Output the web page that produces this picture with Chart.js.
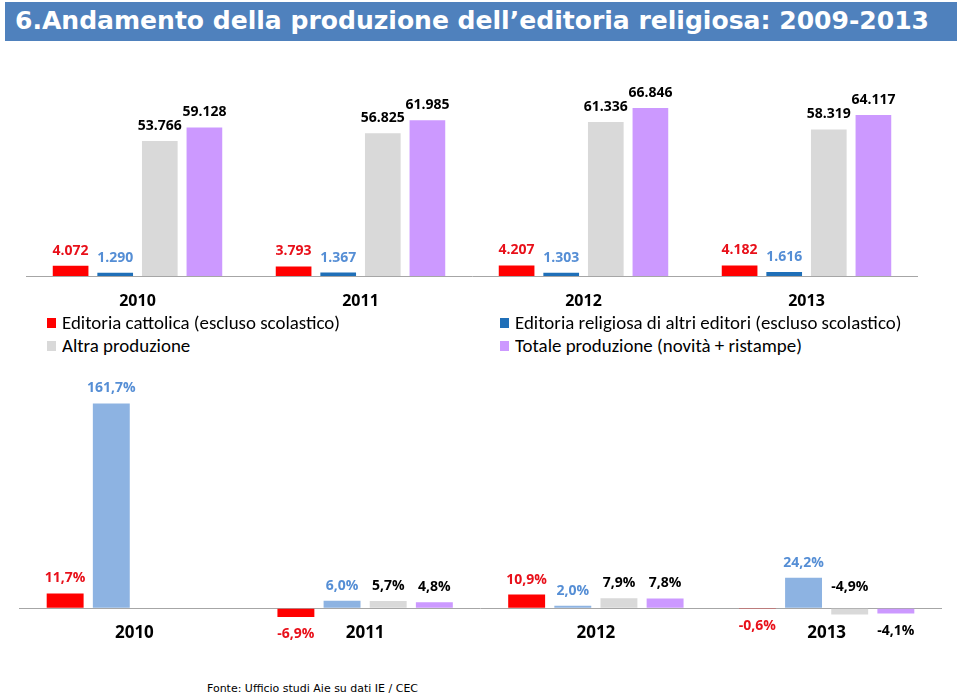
<!DOCTYPE html>
<html>
<head>
<meta charset="utf-8">
<script src="https://cdn.jsdelivr.net/npm/chart.js@4.4.1/dist/chart.umd.min.js"></script>
<style>
  html, body { margin:0; padding:0; background:#fff; }
  body { width:960px; height:696px; position:relative; overflow:hidden; }
  #title { position:absolute; left:5px; top:2px; width:952px; height:39px; background:#4F81BD; }
  #title span { position:absolute; left:10px; top:0; line-height:39px; color:#fff; font-family:"DejaVu Sans", Verdana, sans-serif; font-weight:bold; font-size:24px; white-space:nowrap; transform-origin:left center; }
  canvas { position:absolute; }
  .leg { position:absolute; font-family:Carlito, "Liberation Sans Narrow", "Open Sans", sans-serif; font-size:18px; color:#000; white-space:nowrap; line-height:22px; }
  .leg i { position:absolute; width:9px; height:10px; top:6px; }
  .leg span { position:absolute; display:inline-block; transform-origin:left center; }
  #foot { position:absolute; left:207px; top:681px; font-family:"DejaVu Sans", Verdana, sans-serif; font-size:11px; line-height:16px; color:#000; white-space:nowrap; transform-origin:left center; }
</style>
</head>
<body>
<div id="title"><span id="titleText">6.Andamento della produzione dell’editoria religiosa: 2009-2013</span></div>
<canvas id="top" width="892" height="256" style="left:26px;top:60px;width:892px;height:256px"></canvas>
<div id="legend"></div>
<canvas id="bottom" width="923" height="281" style="left:19px;top:380px;width:923px;height:281px"></canvas>
<div id="foot">Fonte: Ufficio studi Aie su dati IE / CEC</div>
<script>
// ---- data ----
const years = ['2010', '2011', '2012', '2013'];
const seriesNames = [
  'Editoria cattolica (escluso scolastico)',
  'Editoria religiosa di altri editori (escluso scolastico)',
  'Altra produzione',
  'Totale produzione (novità + ristampe)'
];
const cattolica = [4072, 3793, 4207, 4182];
const altriEditori = [1290, 1367, 1303, 1616];
const altraProduzione = [53766, 56825, 61336, 58319];
const totaleProduzione = [59128, 61985, 66846, 64117];

const cattolicaVar = [11.7, -6.9, 10.9, -0.6];
const altriEditoriVar = [161.7, 6.0, 2.0, 24.2];
const altraProduzioneVar = [null, 5.7, 7.9, -4.9];
const totaleProduzioneVar = [null, 4.8, 7.8, -4.1];

// ---- styles ----
const RED = '#FF0000', BLUE_DARK = '#1F6FB8', BLUE_LIGHT = '#8DB3E2', GRAY = '#D9D9D9', PURPLE = '#CC99FF';
const LBL_RED = '#E8101A', LBL_BLUE = '#558ED5', LBL_BLACK = '#000000';
const LABEL_FONT = 'bold 14px "Open Sans", sans-serif';
const AXIS_COLOR = '#A6A6A6';

function fmtThousands(v) { return String(v).replace(/\B(?=(\d{3})+(?!\d))/g, '.'); }
function fmtPct(v) { return v.toFixed(1).replace('.', ',') + '%'; }

const valueLabels = {
  id: 'valueLabels',
  afterDatasetsDraw(chart, args, opts) {
    const ctx = chart.ctx;
    ctx.save();
    ctx.textAlign = 'center';
    ctx.textBaseline = 'middle';
    ctx.font = opts.font;
    chart.data.datasets.forEach((ds, di) => {
      const meta = chart.getDatasetMeta(di);
      meta.data.forEach((bar, i) => {
        const v = ds.data[i];
        if (v == null) return;
        const forced = (opts.forceAbove || []).find(p => p[0] === di && p[1] === i);
        let y;
        if (forced) y = Math.min(bar.y, bar.base) - forced[2];
        else if (v >= 0) y = Math.min(bar.y, bar.base) - opts.gapAbove;
        else y = Math.max(bar.y, bar.base) + opts.gapBelow;
        ctx.fillStyle = opts.colors[di];
        ctx.fillText(opts.format(v), bar.x, y);
      });
    });
    ctx.restore();
  }
};

function ds(label, data, color) {
  return { label, data, backgroundColor: color, borderWidth: 0, categoryPercentage: 0.8, barPercentage: 0.8 };
}

new Chart(document.getElementById('top'), {
  type: 'bar',
  data: {
    labels: years,
    datasets: [
      ds(seriesNames[0], cattolica, RED),
      ds(seriesNames[1], altriEditori, BLUE_DARK),
      ds(seriesNames[2], altraProduzione, GRAY),
      ds(seriesNames[3], totaleProduzione, PURPLE)
    ]
  },
  options: {
    responsive: false, animation: false, devicePixelRatio: 1,
    layout: { padding: { top: 15, left: 0, right: 0, bottom: 0 } },
    plugins: {
      legend: { display: false }, tooltip: { enabled: false },
      valueLabels: { font: LABEL_FONT, gapAbove: 15, gapBelow: 17, format: fmtThousands,
        colors: [LBL_RED, LBL_BLUE, LBL_BLACK, LBL_BLACK] }
    },
    scales: {
      x: {
        grid: { display: false, drawTicks: false },
        border: { display: true, color: AXIS_COLOR, width: 1 },
        ticks: { padding: 16, color: '#000', font: { family: '"Open Sans", sans-serif', size: 16, weight: 'bold' } },
        afterFit(s) { s.height = 40; }
      },
      y: { display: false, min: 0, max: 80000 }
    }
  },
  plugins: [valueLabels]
});

new Chart(document.getElementById('bottom'), {
  type: 'bar',
  data: {
    labels: years,
    datasets: [
      ds(seriesNames[0], cattolicaVar, RED),
      ds(seriesNames[1], altriEditoriVar, BLUE_LIGHT),
      ds(seriesNames[2], altraProduzioneVar, GRAY),
      ds(seriesNames[3], totaleProduzioneVar, PURPLE)
    ]
  },
  options: {
    responsive: false, animation: false, devicePixelRatio: 1,
    layout: { padding: { top: 13, left: 0, right: 0, bottom: 0 } },
    plugins: {
      legend: { display: false }, tooltip: { enabled: false },
      valueLabels: { font: LABEL_FONT, gapAbove: 15, gapBelow: 17, format: fmtPct,
        forceAbove: [[2, 3, 22]],
        colors: [LBL_RED, LBL_BLUE, LBL_BLACK, LBL_BLACK] }
    },
    scales: {
      x: {
        grid: { display: false, drawTicks: false },
        border: { display: false },
        ticks: { padding: 2, color: '#000', font: { family: '"Open Sans", sans-serif', size: 17, weight: 'bold' } },
        afterFit(s) { s.height = 40; }
      },
      y: {
        min: -10, max: 170,
        border: { display: false },
        ticks: { display: false, stepSize: 10 },
        grid: { drawTicks: false, lineWidth: 1, color: (c) => (c.tick && c.tick.value === 0) ? AXIS_COLOR : 'rgba(0,0,0,0)' },
        afterFit(s) { s.width = 0; }
      }
    }
  },
  plugins: [valueLabels]
});

// ---- legend (HTML) ----
const legendColors = [RED, BLUE_DARK, GRAY, PURPLE];
const legendPos = [ [47, 312], [500, 312], [47, 335], [500, 335] ];
const legendEl = document.getElementById('legend');
const spans = [];
seriesNames.forEach((n, k) => {
  const d = document.createElement('div');
  d.className = 'leg';
  d.style.left = legendPos[k][0] + 'px';
  d.style.top = legendPos[k][1] + 'px';
  d.innerHTML = '<i style="left:0;background:' + legendColors[k] + '"></i><span style="left:15px">' + n + '</span>';
  legendEl.appendChild(d);
  spans.push(d.querySelector('span'));
});
// fit widths to the reference's text width
const legScale = 278 / spans[0].getBoundingClientRect().width;
spans.forEach(s => s.style.transform = 'scaleX(' + legScale + ')');

const tt = document.getElementById('titleText');
tt.style.transform = 'scaleX(' + (914 / tt.getBoundingClientRect().width) + ')';
const ft = document.getElementById('foot');
ft.style.transform = 'scaleX(' + (211 / ft.getBoundingClientRect().width) + ')';
</script>
</body>
</html>
